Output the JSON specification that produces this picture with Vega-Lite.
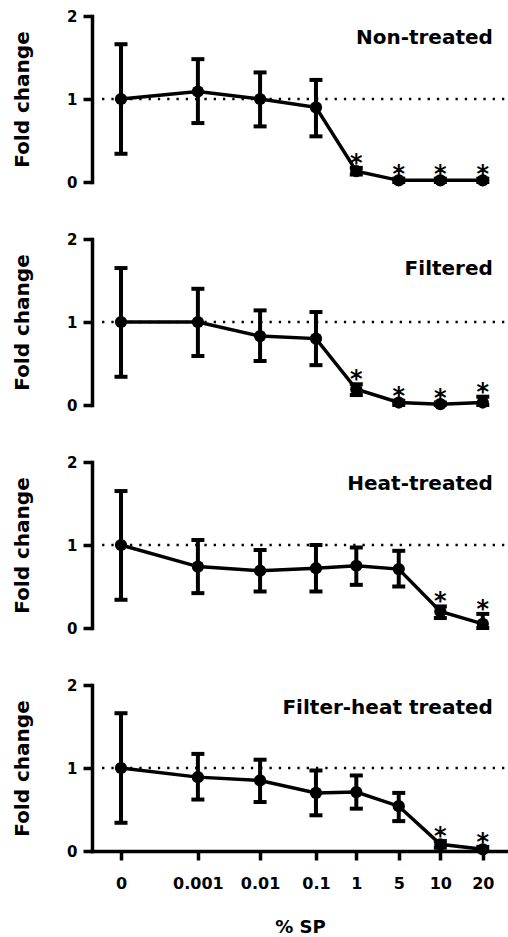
{
  "$schema": "https://vega.github.io/schema/vega-lite/v6.json",
  "padding": {"left": 12, "top": 9, "right": 0, "bottom": 0},
  "spacing": 57,
  "bounds": "flush",
  "datasets": {
    "d": [
      {"group": "Non-treated", "dose": "0", "xpos": 0, "mean": 1.0, "lo": 0.34, "hi": 1.66, "star": ""},
      {"group": "Non-treated", "dose": "0.001", "xpos": 1.83, "mean": 1.09, "lo": 0.71, "hi": 1.48, "star": ""},
      {"group": "Non-treated", "dose": "0.01", "xpos": 3.31, "mean": 1.0, "lo": 0.67, "hi": 1.32, "star": ""},
      {"group": "Non-treated", "dose": "0.1", "xpos": 4.64, "mean": 0.9, "lo": 0.55, "hi": 1.23, "star": ""},
      {"group": "Non-treated", "dose": "1", "xpos": 5.6, "mean": 0.13, "lo": 0.09, "hi": 0.17, "star": "*"},
      {"group": "Non-treated", "dose": "5", "xpos": 6.61, "mean": 0.02, "lo": 0.0, "hi": 0.04, "star": "*"},
      {"group": "Non-treated", "dose": "10", "xpos": 7.6, "mean": 0.02, "lo": 0.0, "hi": 0.04, "star": "*"},
      {"group": "Non-treated", "dose": "20", "xpos": 8.61, "mean": 0.02, "lo": 0.0, "hi": 0.04, "star": "*"},
      {"group": "Filtered", "dose": "0", "xpos": 0, "mean": 1.0, "lo": 0.34, "hi": 1.65, "star": ""},
      {"group": "Filtered", "dose": "0.001", "xpos": 1.83, "mean": 1.0, "lo": 0.59, "hi": 1.4, "star": ""},
      {"group": "Filtered", "dose": "0.01", "xpos": 3.31, "mean": 0.83, "lo": 0.53, "hi": 1.14, "star": ""},
      {"group": "Filtered", "dose": "0.1", "xpos": 4.64, "mean": 0.8, "lo": 0.48, "hi": 1.12, "star": ""},
      {"group": "Filtered", "dose": "1", "xpos": 5.6, "mean": 0.19, "lo": 0.12, "hi": 0.25, "star": "*"},
      {"group": "Filtered", "dose": "5", "xpos": 6.61, "mean": 0.03, "lo": 0.0, "hi": 0.05, "star": "*"},
      {"group": "Filtered", "dose": "10", "xpos": 7.6, "mean": 0.01, "lo": 0.0, "hi": 0.03, "star": "*"},
      {"group": "Filtered", "dose": "20", "xpos": 8.61, "mean": 0.03, "lo": 0.0, "hi": 0.1, "star": "*"},
      {"group": "Heat-treated", "dose": "0", "xpos": 0, "mean": 1.0, "lo": 0.34, "hi": 1.65, "star": ""},
      {"group": "Heat-treated", "dose": "0.001", "xpos": 1.83, "mean": 0.74, "lo": 0.42, "hi": 1.06, "star": ""},
      {"group": "Heat-treated", "dose": "0.01", "xpos": 3.31, "mean": 0.69, "lo": 0.44, "hi": 0.94, "star": ""},
      {"group": "Heat-treated", "dose": "0.1", "xpos": 4.64, "mean": 0.72, "lo": 0.44, "hi": 1.0, "star": ""},
      {"group": "Heat-treated", "dose": "1", "xpos": 5.6, "mean": 0.75, "lo": 0.52, "hi": 0.97, "star": ""},
      {"group": "Heat-treated", "dose": "5", "xpos": 6.61, "mean": 0.71, "lo": 0.5, "hi": 0.93, "star": ""},
      {"group": "Heat-treated", "dose": "10", "xpos": 7.6, "mean": 0.2, "lo": 0.12, "hi": 0.26, "star": "*"},
      {"group": "Heat-treated", "dose": "20", "xpos": 8.61, "mean": 0.05, "lo": 0.0, "hi": 0.17, "star": "*"},
      {"group": "Filter-heat treated", "dose": "0", "xpos": 0, "mean": 1.0, "lo": 0.34, "hi": 1.66, "star": ""},
      {"group": "Filter-heat treated", "dose": "0.001", "xpos": 1.83, "mean": 0.89, "lo": 0.62, "hi": 1.17, "star": ""},
      {"group": "Filter-heat treated", "dose": "0.01", "xpos": 3.31, "mean": 0.85, "lo": 0.59, "hi": 1.1, "star": ""},
      {"group": "Filter-heat treated", "dose": "0.1", "xpos": 4.64, "mean": 0.7, "lo": 0.43, "hi": 0.97, "star": ""},
      {"group": "Filter-heat treated", "dose": "1", "xpos": 5.6, "mean": 0.71, "lo": 0.51, "hi": 0.91, "star": ""},
      {"group": "Filter-heat treated", "dose": "5", "xpos": 6.61, "mean": 0.54, "lo": 0.36, "hi": 0.7, "star": ""},
      {"group": "Filter-heat treated", "dose": "10", "xpos": 7.6, "mean": 0.08, "lo": 0.04, "hi": 0.12, "star": "*"},
      {"group": "Filter-heat treated", "dose": "20", "xpos": 8.61, "mean": 0.02, "lo": 0.0, "hi": 0.05, "star": "*"}
    ]
  },
  "data": {"name": "d"},
  "config": {
    "view": {"stroke": null},
    "font": "DejaVu Sans",
    "axis": {
      "grid": false,
      "domainColor": "black",
      "tickColor": "black",
      "labelColor": "black",
      "titleColor": "black",
      "labelFont": "DejaVu Sans",
      "titleFont": "DejaVu Sans",
      "labelFontWeight": "bold",
      "titleFontWeight": "bold",
      "domainWidth": 3.5,
      "tickWidth": 3.5,
      "tickSize": 9,
      "domainCap": "square"
    },
    "axisY": {
      "labelFontSize": 15,
      "labelPadding": 6,
      "titleFontSize": 20,
      "titleX": -63.7,
      "titleY": 83,
      "titleBaseline": "alphabetic",
      "titleAngle": -90,
      "tickCount": 2
    },
    "axisX": {
      "labelFontSize": 16,
      "labelPadding": 15,
      "titleFontSize": 18,
      "titlePadding": 27,
      "labelOverlap": false,
      "labelFlush": false
    }
  },
  "vconcat": [
    {
      "width": 416, "height": 166,
      "transform": [{"filter": "datum.group == 'Non-treated'"}],
      "encoding": {"x": {"field": "xpos", "type": "quantitative", "scale": {"domain": [-0.69, 9.21], "nice": false, "zero": false}, "axis": null}},
      "layer": [
        {"transform": [{"filter": "datum.dose == '0'"}], "mark": {"type": "rule", "strokeDash": [2.3, 7], "strokeWidth": 2.3, "color": "black"}, "encoding": {"x": {"datum": -0.45}, "x2": {"datum": 9.21}, "y": {"datum": 1, "type": "quantitative", "scale": {"domain": [0, 2], "nice": false}, "title": "Fold change"}}},
        {"mark": {"type": "errorbar", "size": 13, "thickness": 4, "color": "black", "ticks": {"color": "black", "opacity": 1, "thickness": 4, "size": 13}, "rule": {"color": "black", "opacity": 1, "strokeWidth": 4}}, "encoding": {"y": {"field": "lo", "type": "quantitative", "scale": {"domain": [0, 2], "nice": false}, "title": "Fold change"}, "y2": {"field": "hi"}}},
        {"mark": {"type": "line", "color": "black", "strokeWidth": 3.5}, "encoding": {"y": {"field": "mean", "type": "quantitative", "scale": {"domain": [0, 2], "nice": false}, "title": "Fold change"}}},
        {"mark": {"type": "point", "filled": true, "shape": "circle", "size": 150, "color": "black", "opacity": 1}, "encoding": {"y": {"field": "mean", "type": "quantitative", "scale": {"domain": [0, 2], "nice": false}, "title": "Fold change"}}},
        {"transform": [{"filter": "datum.star == '*'"}], "mark": {"type": "text", "fontSize": 24, "fontWeight": "bold", "baseline": "alphabetic", "dy": 3, "color": "black"}, "encoding": {"y": {"field": "hi", "type": "quantitative", "scale": {"domain": [0, 2], "nice": false}, "title": "Fold change"}, "text": {"field": "star"}}},
        {"transform": [{"filter": "datum.dose == '0'"}], "mark": {"type": "text", "align": "right", "baseline": "alphabetic", "fontSize": 20, "fontWeight": "bold", "color": "black"}, "encoding": {"x": {"datum": 8.85}, "y": {"datum": 1.668, "type": "quantitative", "scale": {"domain": [0, 2], "nice": false}, "title": "Fold change"}, "text": {"field": "group"}}}
      ]
    },
    {
      "width": 416, "height": 166,
      "transform": [{"filter": "datum.group == 'Filtered'"}],
      "encoding": {"x": {"field": "xpos", "type": "quantitative", "scale": {"domain": [-0.69, 9.21], "nice": false, "zero": false}, "axis": null}},
      "layer": [
        {"transform": [{"filter": "datum.dose == '0'"}], "mark": {"type": "rule", "strokeDash": [2.3, 7], "strokeWidth": 2.3, "color": "black"}, "encoding": {"x": {"datum": -0.45}, "x2": {"datum": 9.21}, "y": {"datum": 1, "type": "quantitative", "scale": {"domain": [0, 2], "nice": false}, "title": "Fold change"}}},
        {"mark": {"type": "errorbar", "size": 13, "thickness": 4, "color": "black", "ticks": {"color": "black", "opacity": 1, "thickness": 4, "size": 13}, "rule": {"color": "black", "opacity": 1, "strokeWidth": 4}}, "encoding": {"y": {"field": "lo", "type": "quantitative", "scale": {"domain": [0, 2], "nice": false}, "title": "Fold change"}, "y2": {"field": "hi"}}},
        {"mark": {"type": "line", "color": "black", "strokeWidth": 3.5}, "encoding": {"y": {"field": "mean", "type": "quantitative", "scale": {"domain": [0, 2], "nice": false}, "title": "Fold change"}}},
        {"mark": {"type": "point", "filled": true, "shape": "circle", "size": 150, "color": "black", "opacity": 1}, "encoding": {"y": {"field": "mean", "type": "quantitative", "scale": {"domain": [0, 2], "nice": false}, "title": "Fold change"}}},
        {"transform": [{"filter": "datum.star == '*'"}], "mark": {"type": "text", "fontSize": 24, "fontWeight": "bold", "baseline": "alphabetic", "dy": 3, "color": "black"}, "encoding": {"y": {"field": "hi", "type": "quantitative", "scale": {"domain": [0, 2], "nice": false}, "title": "Fold change"}, "text": {"field": "star"}}},
        {"transform": [{"filter": "datum.dose == '0'"}], "mark": {"type": "text", "align": "right", "baseline": "alphabetic", "fontSize": 20, "fontWeight": "bold", "color": "black"}, "encoding": {"x": {"datum": 8.85}, "y": {"datum": 1.568, "type": "quantitative", "scale": {"domain": [0, 2], "nice": false}, "title": "Fold change"}, "text": {"field": "group"}}}
      ]
    },
    {
      "width": 416, "height": 166,
      "transform": [{"filter": "datum.group == 'Heat-treated'"}],
      "encoding": {"x": {"field": "xpos", "type": "quantitative", "scale": {"domain": [-0.69, 9.21], "nice": false, "zero": false}, "axis": null}},
      "layer": [
        {"transform": [{"filter": "datum.dose == '0'"}], "mark": {"type": "rule", "strokeDash": [2.3, 7], "strokeWidth": 2.3, "color": "black"}, "encoding": {"x": {"datum": -0.45}, "x2": {"datum": 9.21}, "y": {"datum": 1, "type": "quantitative", "scale": {"domain": [0, 2], "nice": false}, "title": "Fold change"}}},
        {"mark": {"type": "errorbar", "size": 13, "thickness": 4, "color": "black", "ticks": {"color": "black", "opacity": 1, "thickness": 4, "size": 13}, "rule": {"color": "black", "opacity": 1, "strokeWidth": 4}}, "encoding": {"y": {"field": "lo", "type": "quantitative", "scale": {"domain": [0, 2], "nice": false}, "title": "Fold change"}, "y2": {"field": "hi"}}},
        {"mark": {"type": "line", "color": "black", "strokeWidth": 3.5}, "encoding": {"y": {"field": "mean", "type": "quantitative", "scale": {"domain": [0, 2], "nice": false}, "title": "Fold change"}}},
        {"mark": {"type": "point", "filled": true, "shape": "circle", "size": 150, "color": "black", "opacity": 1}, "encoding": {"y": {"field": "mean", "type": "quantitative", "scale": {"domain": [0, 2], "nice": false}, "title": "Fold change"}}},
        {"transform": [{"filter": "datum.star == '*'"}], "mark": {"type": "text", "fontSize": 24, "fontWeight": "bold", "baseline": "alphabetic", "dy": 3, "color": "black"}, "encoding": {"y": {"field": "hi", "type": "quantitative", "scale": {"domain": [0, 2], "nice": false}, "title": "Fold change"}, "text": {"field": "star"}}},
        {"transform": [{"filter": "datum.dose == '0'"}], "mark": {"type": "text", "align": "right", "baseline": "alphabetic", "fontSize": 20, "fontWeight": "bold", "color": "black"}, "encoding": {"x": {"datum": 8.85}, "y": {"datum": 1.667, "type": "quantitative", "scale": {"domain": [0, 2], "nice": false}, "title": "Fold change"}, "text": {"field": "group"}}}
      ]
    },
    {
      "width": 416, "height": 166,
      "transform": [{"filter": "datum.group == 'Filter-heat treated'"}],
      "encoding": {"x": {"field": "xpos", "type": "quantitative", "scale": {"domain": [-0.69, 9.21], "nice": false, "zero": false}, "title": "% SP", "axis": {"values": [0, 1.83, 3.31, 4.64, 5.6, 6.61, 7.6, 8.61], "labelExpr": "['0','0.001','0.01','0.1','1','5','10','20'][indexof([0,1.83,3.31,4.64,5.6,6.61,7.6,8.61], datum.value)]"}}},
      "layer": [
        {"transform": [{"filter": "datum.dose == '0'"}], "mark": {"type": "rule", "strokeDash": [2.3, 7], "strokeWidth": 2.3, "color": "black"}, "encoding": {"x": {"datum": -0.45}, "x2": {"datum": 9.21}, "y": {"datum": 1, "type": "quantitative", "scale": {"domain": [0, 2], "nice": false}, "title": "Fold change"}}},
        {"mark": {"type": "errorbar", "size": 13, "thickness": 4, "color": "black", "ticks": {"color": "black", "opacity": 1, "thickness": 4, "size": 13}, "rule": {"color": "black", "opacity": 1, "strokeWidth": 4}}, "encoding": {"y": {"field": "lo", "type": "quantitative", "scale": {"domain": [0, 2], "nice": false}, "title": "Fold change"}, "y2": {"field": "hi"}}},
        {"mark": {"type": "line", "color": "black", "strokeWidth": 3.5}, "encoding": {"y": {"field": "mean", "type": "quantitative", "scale": {"domain": [0, 2], "nice": false}, "title": "Fold change"}}},
        {"mark": {"type": "point", "filled": true, "shape": "circle", "size": 150, "color": "black", "opacity": 1}, "encoding": {"y": {"field": "mean", "type": "quantitative", "scale": {"domain": [0, 2], "nice": false}, "title": "Fold change"}}},
        {"transform": [{"filter": "datum.star == '*'"}], "mark": {"type": "text", "fontSize": 24, "fontWeight": "bold", "baseline": "alphabetic", "dy": 3, "color": "black"}, "encoding": {"y": {"field": "hi", "type": "quantitative", "scale": {"domain": [0, 2], "nice": false}, "title": "Fold change"}, "text": {"field": "star"}}},
        {"transform": [{"filter": "datum.dose == '0'"}], "mark": {"type": "text", "align": "right", "baseline": "alphabetic", "fontSize": 20, "fontWeight": "bold", "color": "black"}, "encoding": {"x": {"datum": 8.85}, "y": {"datum": 1.652, "type": "quantitative", "scale": {"domain": [0, 2], "nice": false}, "title": "Fold change"}, "text": {"field": "group"}}}
      ]
    }
  ]
}
